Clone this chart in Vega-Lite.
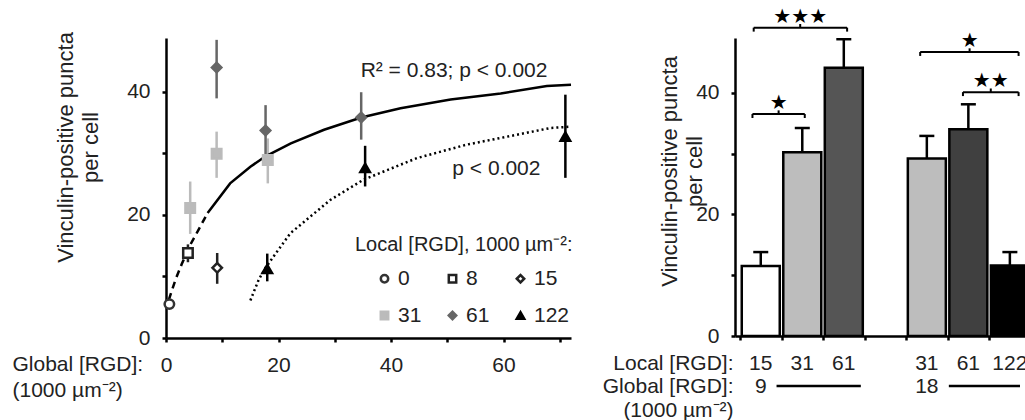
{
  "$schema": "https://vega.github.io/schema/vega-lite/v6.json",
  "autosize": {"type": "pad"},
  "padding": {"left": 12, "top": 7, "right": 0, "bottom": 0},
  "bounds": "flush",
  "spacing": 164,
  "resolve": {"scale": {"fill": "independent", "stroke": "independent", "shape": "independent", "color": "independent"}, "legend": {"fill": "independent", "stroke": "independent", "shape": "independent", "color": "independent"}},
  "datasets": {
    "pts": [
      {"g": 0.6, "v": 5.5, "lo": 5.5, "hi": 5.5, "local": "0"},
      {"g": 3.9, "v": 13.8, "lo": 12.3, "hi": 15.2, "local": "8"},
      {"g": 9.1, "v": 11.4, "lo": 8.8, "hi": 13.8, "local": "15"},
      {"g": 4.3, "v": 21.1, "lo": 16.9, "hi": 25.4, "local": "31"},
      {"g": 9.0, "v": 29.9, "lo": 26.0, "hi": 33.5, "local": "31"},
      {"g": 18.1, "v": 28.9, "lo": 25.1, "hi": 32.4, "local": "31"},
      {"g": 9.0, "v": 43.9, "lo": 38.9, "hi": 48.4, "local": "61"},
      {"g": 17.7, "v": 33.7, "lo": 29.6, "hi": 37.8, "local": "61"},
      {"g": 34.7, "v": 35.8, "lo": 32.2, "hi": 39.9, "local": "61"},
      {"g": 18.0, "v": 11.2, "lo": 9.2, "hi": 13.7, "local": "122"},
      {"g": 35.4, "v": 27.6, "lo": 24.6, "hi": 31.2, "local": "122"},
      {"g": 71.0, "v": 32.7, "lo": 26.0, "hi": 39.5, "local": "122"}
    ],
    "fitA": [
      {"g": 0.5, "v": 6.2}, {"g": 1.7, "v": 9.5}, {"g": 2.8, "v": 12.0},
      {"g": 4.3, "v": 15.1}, {"g": 5.8, "v": 17.6}, {"g": 7.4, "v": 20.3}
    ],
    "fitB": [
      {"g": 7.4, "v": 20.3}, {"g": 11.4, "v": 25.1}, {"g": 15.0, "v": 27.8},
      {"g": 17.7, "v": 29.5}, {"g": 22.2, "v": 31.6}, {"g": 28.1, "v": 33.8},
      {"g": 34.7, "v": 35.8}, {"g": 41.7, "v": 37.3}, {"g": 50.6, "v": 38.7},
      {"g": 59.5, "v": 39.7}, {"g": 67.7, "v": 40.9}, {"g": 72.0, "v": 41.1}
    ],
    "fitC": [
      {"g": 15.0, "v": 6.1}, {"g": 16.5, "v": 9.5}, {"g": 17.7, "v": 11.4},
      {"g": 19.1, "v": 13.2}, {"g": 22.1, "v": 17.0}, {"g": 29.2, "v": 22.4},
      {"g": 35.1, "v": 25.7}, {"g": 44.6, "v": 29.2}, {"g": 53.5, "v": 31.4},
      {"g": 62.4, "v": 33.0}, {"g": 68.4, "v": 34.1}, {"g": 72.0, "v": 34.3}
    ],
    "bars": [
      {"slot": 1, "local": "15", "v": 11.5, "hi": 13.8},
      {"slot": 2, "local": "31", "v": 30.2, "hi": 34.2},
      {"slot": 3, "local": "61", "v": 44.1, "hi": 48.8},
      {"slot": 5, "local": "31", "v": 29.2, "hi": 32.9},
      {"slot": 6, "local": "61", "v": 34.0, "hi": 38.1},
      {"slot": 7, "local": "122", "v": 11.6, "hi": 13.8}
    ],
    "brk": [
      {"x1": 0.83, "x2": 3.08, "xc": 1.95, "y": 50.7, "ylo": 50.05, "yhi": 51.3, "stars": "★★★"},
      {"x1": 0.80, "x2": 2.06, "xc": 1.43, "y": 36.5, "ylo": 35.85, "yhi": 37.1, "stars": "★"},
      {"x1": 4.84, "x2": 7.21, "xc": 6.03, "y": 46.7, "ylo": 46.05, "yhi": 47.3, "stars": "★"},
      {"x1": 5.87, "x2": 7.21, "xc": 6.54, "y": 40.1, "ylo": 39.45, "yhi": 40.7, "stars": "★★"}
    ]
  },
  "hconcat": [
    {
      "width": 405,
      "height": 300,
      "layer": [
        {
          "data": {"name": "pts"},
          "mark": {"type": "rule", "strokeWidth": 2.5},
          "encoding": {
            "x": {"field": "g", "type": "quantitative",
              "scale": {"domain": [0, 72], "nice": false, "zero": false},
              "axis": {"values": [0, 10, 20, 30, 40, 50, 60, 70],
                "labelExpr": "datum.value % 20 === 0 ? datum.label : ''",
                "labelFlush": false, "labelPadding": 12,
                "title": ["Global [RGD]:", "(1000 µm⁻²)"],
                "titleX": -154, "titleY": 32.4, "titleAlign": "left", "titleAnchor": "start",
                "titleBaseline": "alphabetic", "titleLineHeight": 26}},
            "y": {"field": "lo", "type": "quantitative",
              "scale": {"domain": [0, 48.7], "nice": false},
              "axis": {"values": [0, 10, 20, 30, 40],
                "labelExpr": "datum.value % 20 === 0 ? datum.label : ''",
                "labelPadding": 12,
                "title": ["Vinculin-positive puncta", "per cell"],
                "titleFontSize": 22,
                "titleX": -101, "titleY": 109, "titleBaseline": "middle", "titleAlign": "center",
                "titleLineHeight": 25}},
            "y2": {"field": "hi"},
            "color": {"field": "local", "type": "nominal",
              "scale": {"domain": ["122", "0", "8", "15", "31", "61"],
                "range": ["#000000", "#333333", "#222222", "#222222", "#bbbbbb", "#666666"]},
              "legend": null}
          }
        },
        {
          "data": {"name": "fitA"},
          "mark": {"type": "line", "stroke": "black", "strokeWidth": 2.5, "strokeDash": [7, 5]},
          "encoding": {"x": {"field": "g", "type": "quantitative"}, "y": {"field": "v", "type": "quantitative"}}
        },
        {
          "data": {"name": "fitB"},
          "mark": {"type": "line", "stroke": "black", "strokeWidth": 2.5},
          "encoding": {"x": {"field": "g", "type": "quantitative"}, "y": {"field": "v", "type": "quantitative"}}
        },
        {
          "data": {"name": "fitC"},
          "mark": {"type": "line", "stroke": "black", "strokeWidth": 2.5, "strokeDash": [2, 3]},
          "encoding": {"x": {"field": "g", "type": "quantitative"}, "y": {"field": "v", "type": "quantitative"}}
        },
        {
          "data": {"name": "pts"},
          "mark": {"type": "point", "size": 90, "opacity": 1, "strokeWidth": 2.5},
          "encoding": {
            "x": {"field": "g", "type": "quantitative"},
            "y": {"field": "v", "type": "quantitative"},
            "shape": {"field": "local", "type": "nominal",
              "scale": {"domain": ["0", "8", "15", "31", "61", "122"],
                "range": ["circle", "square", "diamond", "square", "diamond", "triangle-up"]},
              "legend": {"title": "Local [RGD], 1000 µm⁻²:", "orient": "none", "direction": "horizontal",
                "legendX": 189, "legendY": 197, "columns": 3, "padding": 0,
                "columnPadding": 1, "rowPadding": 15, "titlePadding": 13,
                "symbolOffset": 19, "symbolSize": 55, "symbolStrokeWidth": 2.5,
                "labelOffset": 3, "labelFontSize": 21, "labelColor": "#222",
                "titleFontSize": 20, "titleFontWeight": "normal", "titleColor": "#222",
                "titleLimit": 400}},
            "fill": {"field": "local", "type": "nominal",
              "scale": {"domain": ["0", "8", "15", "31", "61", "122"],
                "range": ["#ffffff", "#ffffff", "#ffffff", "#bbbbbb", "#666666", "#000000"]}},
            "stroke": {"field": "local", "type": "nominal",
              "scale": {"domain": ["0", "8", "15", "31", "61", "122"],
                "range": ["#333333", "#222222", "#222222", "#bbbbbb", "#666666", "#000000"]}}
          }
        },
        {
          "data": {"values": [{}]},
          "mark": {"type": "text", "align": "left", "baseline": "alphabetic", "fontSize": 21, "color": "#222"},
          "encoding": {"x": {"datum": 34.6, "type": "quantitative"}, "y": {"datum": 42.4, "type": "quantitative"},
            "text": {"value": "R² = 0.83; p < 0.002"}}
        },
        {
          "data": {"values": [{}]},
          "mark": {"type": "text", "align": "left", "baseline": "alphabetic", "fontSize": 21, "color": "#222"},
          "encoding": {"x": {"datum": 50.9, "type": "quantitative"}, "y": {"datum": 26.5, "type": "quantitative"},
            "text": {"value": "p < 0.002"}}
        }
      ]
    },
    {
      "width": 290,
      "height": 298,
      "layer": [
        {
          "data": {"name": "bars"},
          "mark": {"type": "rule", "strokeWidth": 2.5, "color": "black", "clip": true},
          "encoding": {
            "x": {"field": "slot", "type": "quantitative",
              "scale": {"domain": [0.5, 7.244], "nice": false, "zero": false},
              "axis": {"values": [0.5, 1.5, 2.5, 3.5, 4.5, 5.5, 6.5], "labels": false,
                "title": ["Local [RGD]:", "Global [RGD]:", "(1000 µm⁻²)"],
                "titleX": -2, "titleY": 33.5, "titleAlign": "right", "titleAnchor": "start",
                "titleBaseline": "alphabetic", "titleLineHeight": 23.3}},
            "y": {"field": "v", "type": "quantitative",
              "scale": {"domain": [0, 49], "nice": false},
              "axis": {"values": [0, 10, 20, 30, 40],
                "labelExpr": "datum.value % 20 === 0 ? datum.label : ''",
                "labelPadding": 12,
                "title": ["Vinculin-positive puncta", "per cell"],
                "titleFontSize": 22,
                "titleX": -66, "titleY": 133, "titleBaseline": "middle", "titleAlign": "center",
                "titleLineHeight": 25}},
            "y2": {"field": "hi"}
          }
        },
        {
          "data": {"name": "bars"},
          "mark": {"type": "tick", "orient": "horizontal", "size": 15, "thickness": 2.5, "color": "black", "opacity": 1, "clip": true},
          "encoding": {"x": {"field": "slot", "type": "quantitative"}, "y": {"field": "hi", "type": "quantitative"}}
        },
        {
          "data": {"name": "bars"},
          "mark": {"type": "bar", "size": 38, "orient": "vertical", "stroke": "black", "strokeWidth": 2.5, "clip": true},
          "encoding": {
            "x": {"field": "slot", "type": "quantitative"},
            "y": {"field": "v", "type": "quantitative"},
            "fill": {"field": "slot", "type": "nominal",
              "scale": {"domain": [1, 2, 3, 5, 6, 7],
                "range": ["#ffffff", "#bdbdbd", "#555555", "#bdbdbd", "#404040", "#000000"]},
              "legend": null}
          }
        },
        {
          "data": {"name": "bars"},
          "mark": {"type": "text", "align": "center", "baseline": "alphabetic", "fontSize": 21, "color": "#222", "dy": 33.5},
          "encoding": {"x": {"field": "slot", "type": "quantitative"}, "y": {"datum": 0, "type": "quantitative"},
            "text": {"field": "local"}}
        },
        {
          "data": {"values": [{}]},
          "mark": {"type": "text", "align": "center", "baseline": "alphabetic", "fontSize": 21, "color": "#222", "dy": 56.8},
          "encoding": {"x": {"datum": 1, "type": "quantitative"}, "y": {"datum": 0, "type": "quantitative"},
            "text": {"value": "9"}}
        },
        {
          "data": {"values": [{}]},
          "mark": {"type": "text", "align": "center", "baseline": "alphabetic", "fontSize": 21, "color": "#222", "dy": 56.8},
          "encoding": {"x": {"datum": 5, "type": "quantitative"}, "y": {"datum": 0, "type": "quantitative"},
            "text": {"value": "18"}}
        },
        {
          "data": {"values": [{}]},
          "mark": {"type": "rule", "color": "black", "strokeWidth": 2.5},
          "encoding": {"x": {"datum": 1.38, "type": "quantitative"}, "x2": {"datum": 3.41},
            "y": {"datum": -8.22, "type": "quantitative"}}
        },
        {
          "data": {"values": [{}]},
          "mark": {"type": "rule", "color": "black", "strokeWidth": 2.5},
          "encoding": {"x": {"datum": 5.53, "type": "quantitative"}, "x2": {"datum": 7.244},
            "y": {"datum": -8.22, "type": "quantitative"}}
        },
        {
          "data": {"name": "brk"},
          "mark": {"type": "rule", "color": "black", "strokeWidth": 2},
          "encoding": {"x": {"field": "x1", "type": "quantitative"}, "x2": {"field": "x2"},
            "y": {"field": "y", "type": "quantitative"}}
        },
        {
          "data": {"name": "brk"},
          "mark": {"type": "rule", "color": "black", "strokeWidth": 2},
          "encoding": {"x": {"field": "x1", "type": "quantitative"},
            "y": {"field": "ylo", "type": "quantitative"}, "y2": {"field": "y"}}
        },
        {
          "data": {"name": "brk"},
          "mark": {"type": "rule", "color": "black", "strokeWidth": 2},
          "encoding": {"x": {"field": "x2", "type": "quantitative"},
            "y": {"field": "ylo", "type": "quantitative"}, "y2": {"field": "y"}}
        },
        {
          "data": {"name": "brk"},
          "mark": {"type": "rule", "color": "black", "strokeWidth": 2},
          "encoding": {"x": {"field": "xc", "type": "quantitative"},
            "y": {"field": "y", "type": "quantitative"}, "y2": {"field": "yhi"}}
        },
        {
          "data": {"name": "brk"},
          "mark": {"type": "text", "font": "DejaVu Sans", "fontSize": 20, "align": "center", "baseline": "alphabetic", "color": "black", "dy": -1, "letterSpacing": -5},
          "encoding": {"x": {"field": "xc", "type": "quantitative"},
            "y": {"field": "yhi", "type": "quantitative"}, "text": {"field": "stars"}}
        }
      ]
    }
  ],
  "config": {
    "font": "Liberation Sans",
    "view": {"stroke": null},
    "axis": {
      "grid": false, "domainColor": "black", "domainWidth": 2.5, "tickColor": "black",
      "tickWidth": 2.5, "tickSize": 4, "labelFontSize": 21, "labelColor": "#222",
      "titleFontSize": 21, "titleFontWeight": "normal", "titleColor": "#222"
    }
  }
}
